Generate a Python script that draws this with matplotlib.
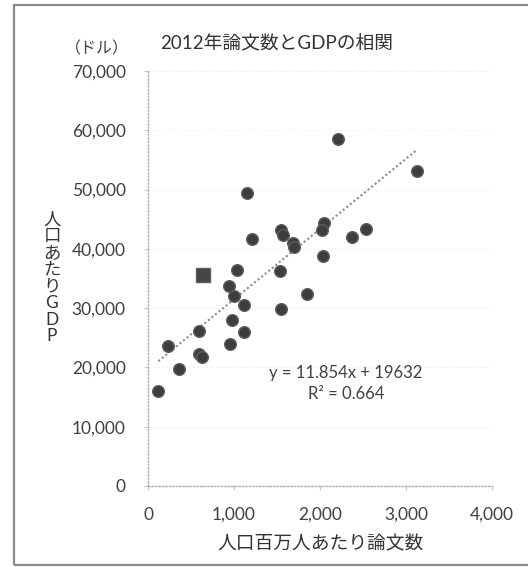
import matplotlib
matplotlib.use("Agg")
import matplotlib.pyplot as plt
from matplotlib.patches import Rectangle
from matplotlib.ticker import FuncFormatter, MultipleLocator
import numpy as np

plt.rcParams['font.family'] = ['Lato', 'Noto Sans CJK JP', 'DejaVu Sans']

# papers per million people vs GDP per capita (USD), 2012
papers = [2206, 1151, 1206, 1547, 1566, 1686, 1702, 2043, 2027, 2372,
          2531, 2039, 1535, 1035, 945, 1000, 1849, 3124, 1116, 1550,
          980, 597, 1120, 229, 950, 593, 628, 360, 120]
gdp = [58500, 49400, 41600, 43100, 42300, 41000, 40300, 44400, 43200, 42000,
       43400, 38800, 36200, 36500, 33800, 32000, 32400, 53200, 30600, 29900,
       28000, 26100, 25900, 23600, 23900, 22200, 21700, 19800, 16000]

# highlighted country
japan_x = [640]
japan_y = [35600]

slope = 11.854
intercept = 19632
r2 = 0.664

fig = plt.figure(figsize=(5.28, 5.67), dpi=100)
ax = fig.add_axes([148 / 528, 1 - 486 / 567, 344 / 528, 415 / 567])

text_c = "#404040"

# outer frame (open on the right)
fig.patches.append(Rectangle((14 / 528, 1 - 565 / 567), 1.2, 560 / 567,
                             transform=fig.transFigure, fill=False,
                             edgecolor="#8a8a8a", linewidth=1.6))

ax.set_xlim(0, 4000)
ax.set_ylim(0, 70000)
ax.xaxis.set_major_locator(MultipleLocator(1000))
ax.yaxis.set_major_locator(MultipleLocator(10000))
fmt = FuncFormatter(lambda v, p: f"{int(v):,}")
ax.xaxis.set_major_formatter(fmt)
ax.yaxis.set_major_formatter(fmt)

ax.grid(axis="y", color="#f0f0f0", linewidth=0.8, linestyle=(0, (2, 2)))
ax.set_axisbelow(True)

for side in ["top", "right"]:
    ax.spines[side].set_visible(False)
for side in ["left", "bottom"]:
    ax.spines[side].set_color("#b0b0b0")
    ax.spines[side].set_linestyle((0, (1, 1.5)))
    ax.spines[side].set_linewidth(1.0)

ax.tick_params(axis="both", colors="#c8c8c8", length=3, width=0.8,
               labelcolor=text_c, labelsize=12.5)
ax.tick_params(axis="x", pad=12)
ax.tick_params(axis="y", pad=13)

# trendline over the data range
xs = np.array([min(papers), max(papers)])
ax.plot(xs, slope * xs + intercept, color="#8c8c8c", linewidth=1.5,
        linestyle=(0, (1, 1.2)), zorder=2)

ax.scatter(papers, gdp, s=70, color="#3d3d3d", edgecolors="#5c5c5c",
           linewidths=1.0, zorder=3)
ax.scatter(japan_x, japan_y, s=95, marker="s", color="#454545",
           edgecolors="#5c5c5c", linewidths=1.0, zorder=3)

ax.text(2300, 19100, f"y = {slope}x + {intercept}", ha="center", va="center",
        fontsize=12, color=text_c)
ax.text(2300, 15600, f"R² = {r2}", ha="center", va="center",
        fontsize=12, color=text_c)

fig.text(277 / 528, 1 - 42 / 567, "2012年論文数とGDPの相関", ha="center",
         va="center", fontsize=13.5, color="#333333")
fig.text(97 / 528, 1 - 49 / 567, "（ドル）", ha="center", va="center",
         fontsize=11.5, color=text_c)
fig.text(320 / 528, 1 - 544 / 567, "人口百万人あたり論文数", ha="center",
         va="center", fontsize=13.5, color="#333333")
fig.text(52 / 528, 1 - 278 / 567, "\n".join("人口あたりGDP"), ha="center",
         va="center", fontsize=12.5, color="#333333", linespacing=1.05)

fig.savefig("out.png", dpi=100)
